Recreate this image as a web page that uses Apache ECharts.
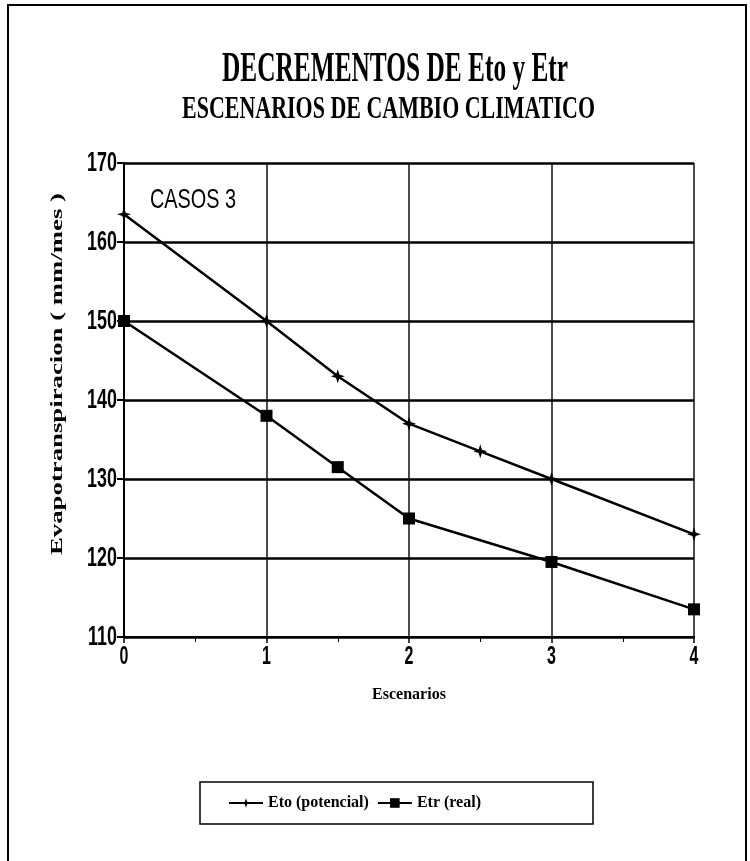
<!DOCTYPE html>
<html>
<head>
<meta charset="utf-8">
<script src="https://cdn.jsdelivr.net/npm/echarts@6/dist/echarts.min.js"></script>
<style>html,body{margin:0;padding:0;background:#fff}#c{width:750px;height:861px}</style>
</head>
<body>
<div id="c"></div>
<script>
// ---- data ----
const etoX = [0, 1, 1.5, 2, 2.5, 3, 4];
const etoY = [163.5, 150, 143, 137, 133.5, 130, 123];
const etrX = [0, 1, 1.5, 2, 3, 4];
const etrY = [150, 138, 131.5, 125, 119.5, 113.5];
const xTicks = [0, 1, 2, 3, 4];
const yTicks = [110, 120, 130, 140, 150, 160, 170];
const seriesNames = ['Eto (potencial)', 'Etr (real)'];
const titleMain = 'DECREMENTOS DE Eto y Etr';
const titleSub = 'ESCENARIOS DE CAMBIO CLIMATICO';
const yName = 'Evapotranspiracion ( mm/mes )';
const xName = 'Escenarios';
const note = 'CASOS 3';

function measure(text, font) {
  const ctx = document.createElement('canvas').getContext('2d');
  ctx.font = font;
  return ctx.measureText(text).width;
}
function scaledText(text, font, scaleX, x, y, align, rotation) {
  return {
    type: 'text', x: x, y: y, rotation: rotation || 0,
    scaleX: scaleX, silent: true,
    style: { text: text, font: font, fill: '#000', align: align || 'left', verticalAlign: 'middle' }
  };
}
function fitText(text, font, targetW, x, y, align, rotation) {
  return scaledText(text, font, targetW / measure(text, font), x, y, align, rotation);
}

const serif = '"Liberation Serif", "Times New Roman", serif';
const sans = '"Liberation Sans", Arial, sans-serif';
const f1 = 'bold 42px ' + serif;
const f2 = 'bold 32px ' + serif;
const fy = 'bold 17px ' + serif;
const fn = '28px ' + sans;
const fTickY = 'bold 28px ' + sans;
const fTickX = 'bold 25px ' + sans;
const condense = 0.64;

const chart = echarts.init(document.getElementById('c'), null, { renderer: 'canvas' });
const starPath = 'path://M5,0 L6.2,3.8 L10,5 L6.2,6.2 L5,10 L3.8,6.2 L0,5 L3.8,3.8 Z';

const baseGraphic = [
  { type: 'rect', shape: { x: 8, y: 5, width: 738, height: 900 }, style: { fill: 'none', stroke: '#000', lineWidth: 2 }, silent: true },
  fitText(titleMain, f1, 346, 222, 70, 'left'),
  fitText(titleSub, f2, 413, 182, 110, 'left'),
  fitText(yName, fy, 362, 58, 374, 'center', Math.PI / 2),
  fitText(note, fn, 86, 150, 200, 'left')
];

chart.setOption({
  animation: false,
  backgroundColor: '#fff',
  graphic: baseGraphic,
  grid: { left: 124, right: 56, top: 163, bottom: 224, containLabel: false },
  xAxis: {
    type: 'value', min: 0, max: 4, interval: 1,
    name: xName, nameLocation: 'middle', nameGap: 50,
    nameTextStyle: { fontFamily: serif, fontWeight: 'bold', fontSize: 16, color: '#000' },
    axisLine: { show: true, lineStyle: { color: '#000', width: 2 } },
    axisTick: { show: true, length: 6, lineStyle: { color: '#000', width: 1.5 } },
    minorTick: { show: true, splitNumber: 2, length: 5, lineStyle: { color: '#000', width: 1 } },
    axisLabel: { show: false },
    splitLine: { show: true, lineStyle: { color: '#111', width: 1.5 } }
  },
  yAxis: {
    type: 'value', min: 110, max: 170, interval: 10,
    axisLine: { show: true, onZero: false, lineStyle: { color: '#000', width: 2 } },
    axisTick: { show: true, length: 7, lineStyle: { color: '#000', width: 2 } },
    axisLabel: { show: false },
    splitLine: { show: true, lineStyle: { color: '#000', width: 2.5 } }
  },
  legend: {
    left: 200, top: 782,
    padding: [13, 112, 13, 28],
    borderColor: '#000', borderWidth: 1.5,
    itemWidth: 34, itemHeight: 12, itemGap: 8,
    textStyle: { fontFamily: serif, fontWeight: 'bold', fontSize: 16, color: '#000' },
    data: seriesNames
  },
  series: [
    {
      name: seriesNames[0], type: 'line',
      data: etoX.map((x, i) => [x, etoY[i]]),
      symbol: starPath, symbolSize: 14, showAllSymbol: true,
      lineStyle: { color: '#000', width: 2.5 },
      itemStyle: { color: '#000' }
    },
    {
      name: seriesNames[1], type: 'line',
      data: etrX.map((x, i) => [x, etrY[i]]),
      symbol: 'rect', symbolSize: 12, showAllSymbol: true,
      lineStyle: { color: '#000', width: 2.5 },
      itemStyle: { color: '#000' }
    }
  ]
});

// condensed tick labels positioned through the axis scales
const axisX0 = chart.convertToPixel({ xAxisIndex: 0 }, 0);
const axisY0 = chart.convertToPixel({ yAxisIndex: 0 }, 110);
const tickGraphics = [];
yTicks.forEach(v => {
  const py = chart.convertToPixel({ yAxisIndex: 0 }, v);
  tickGraphics.push(scaledText(String(v), fTickY, condense, axisX0 - 7, py, 'right'));
});
xTicks.forEach(v => {
  const px = chart.convertToPixel({ xAxisIndex: 0 }, v);
  tickGraphics.push(scaledText(String(v), fTickX, condense, px, axisY0 + 20, 'center'));
});
chart.setOption({ graphic: baseGraphic.concat(tickGraphics) }, { replaceMerge: ['graphic'] });
</script>
</body>
</html>
